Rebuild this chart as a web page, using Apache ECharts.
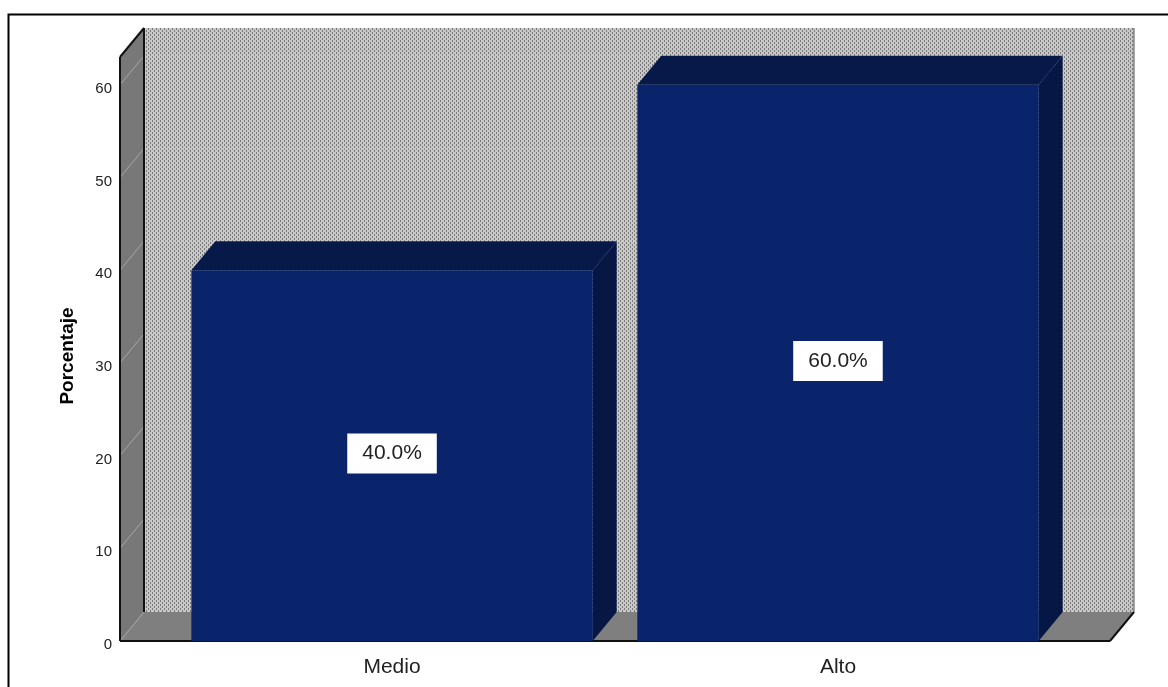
<!DOCTYPE html>
<html>
<head>
<meta charset="utf-8">
<script src="https://cdn.jsdelivr.net/npm/echarts@6/dist/echarts.min.js"></script>
<style>
  html, body { margin: 0; padding: 0; background: #ffffff; }
  #chart { width: 1168px; height: 687px; }
</style>
</head>
<body>
<div id="chart"></div>
<script>
// Data
const categories = ['Medio', 'Alto'];
const percentages = [40.0, 60.0];
const yTicks = [0, 10, 20, 30, 40, 50, 60];

// Axis ranges (axis units)
const X_MIN = -0.61;
const X_MAX = 1.61;
const Y_MAX = 63;
const BAR_WIDTH = 0.9;

// 3D depth offset in pixels
const DX = 24;
const DY = -29;

const FONT = '"Liberation Sans", Arial, sans-serif';

// Dotted fill used for the back wall
function makeDotPattern() {
  const c = document.createElement('canvas');
  c.width = 4; c.height = 4;
  const ctx = c.getContext('2d');
  ctx.fillStyle = '#c8c8c8';
  ctx.fillRect(0, 0, 4, 4);
  ctx.fillStyle = '#7a7a7a';
  ctx.fillRect(0, 0, 1, 2);
  ctx.fillRect(2, 2, 1, 2);
  return c;
}
const dotPattern = makeDotPattern();

function renderWalls(params, api) {
  const cs = params.coordSys;
  const x0 = cs.x, y0 = cs.y, w = cs.width, h = cs.height;
  const bottom = y0 + h;
  const children = [];
  // back wall
  children.push({
    type: 'rect',
    shape: { x: x0 + DX, y: y0 + DY, width: w, height: h },
    style: { fill: { image: dotPattern, repeat: 'repeat' } }
  });
  // left side wall
  children.push({
    type: 'polygon',
    shape: { points: [[x0, y0], [x0 + DX, y0 + DY], [x0 + DX, bottom + DY], [x0, bottom]] },
    style: { fill: '#787878' }
  });
  // floor
  children.push({
    type: 'polygon',
    shape: { points: [[x0, bottom], [x0 + DX, bottom + DY], [x0 + w + DX, bottom + DY], [x0 + w, bottom]] },
    style: { fill: '#7f7f7f' }
  });
  // gridlines on side wall and back wall
  yTicks.forEach(function (t) {
    const y = api.coord([X_MIN, t])[1];
    if (t > 0) {
      children.push({
        type: 'line',
        shape: { x1: x0 + DX, y1: y + DY, x2: x0 + w + DX, y2: y + DY },
        style: { stroke: 'rgba(210,210,210,0.4)', lineWidth: 1 }
      });
    }
    children.push({
      type: 'line',
      shape: { x1: x0, y1: y, x2: x0 + DX, y2: y + DY },
      style: { stroke: '#a6a6a6', lineWidth: 1 }
    });
  });
  // edges
  const edge = function (x1, y1, x2, y2, color, lw) {
    children.push({
      type: 'line',
      shape: { x1: x1, y1: y1, x2: x2, y2: y2 },
      style: { stroke: color, lineWidth: lw }
    });
  };
  edge(x0 + DX, y0 + DY, x0 + DX, bottom + DY, '#111', 2);
  edge(x0 + w + DX, y0 + DY, x0 + w + DX, bottom + DY, '#555', 1);
  edge(x0, y0, x0 + DX, y0 + DY, '#111', 2);
  edge(x0, y0, x0, bottom, '#111', 2);
  edge(x0, bottom, x0 + w, bottom, '#111', 2);
  edge(x0 + w, bottom, x0 + w + DX, bottom + DY, '#111', 2);
  return { type: 'group', children: children };
}

function renderBar(params, api) {
  const i = api.value(0);
  const v = api.value(1);
  const topPt = api.coord([i, v]);
  const basePt = api.coord([i, 0]);
  const bw = api.size([BAR_WIDTH, 0])[0];
  const cx = topPt[0];
  const top = topPt[1];
  const base = basePt[1];
  const left = cx - bw / 2;
  const right = cx + bw / 2;
  return {
    type: 'group',
    children: [
      {
        type: 'polygon',
        shape: { points: [[right, top], [right + DX, top + DY], [right + DX, base + DY], [right, base]] },
        style: { fill: '#061746' }
      },
      {
        type: 'polygon',
        shape: { points: [[left, top], [left + DX, top + DY], [right + DX, top + DY], [right, top]] },
        style: { fill: '#061948' }
      },
      {
        type: 'rect',
        shape: { x: left, y: top, width: bw, height: base - top },
        style: { fill: '#0a246c' }
      },
      {
        type: 'text',
        x: cx,
        y: (top + base) / 2 - 2,
        style: {
          text: v.toFixed(1) + '%',
          fontFamily: FONT,
          fontSize: 21,
          fill: '#222',
          align: 'center',
          verticalAlign: 'middle',
          backgroundColor: '#ffffff',
          padding: [9, 15, 9, 15],
          lineHeight: 22
        }
      }
    ]
  };
}

const chart = echarts.init(document.getElementById('chart'), null, { renderer: 'canvas' });
chart.setOption({
  animation: false,
  backgroundColor: '#ffffff',
  graphic: [{
    type: 'rect',
    left: 6, top: 12,
    shape: { width: 1175, height: 690 },
    style: { fill: 'none', stroke: '#000', lineWidth: 2 },
    z: 10
  }],
  grid: { left: 120, right: 58, top: 57, bottom: 46 },
  xAxis: {
    type: 'value',
    min: X_MIN,
    max: X_MAX,
    axisLine: { show: false },
    axisTick: { show: false },
    splitLine: { show: false },
    axisLabel: {
      customValues: [0, 1],
      formatter: function (v) { return categories[Math.round(v)]; },
      fontFamily: FONT,
      fontSize: 21,
      color: '#222',
      margin: 16
    }
  },
  yAxis: {
    type: 'value',
    min: 0,
    max: Y_MAX,
    interval: 10,
    name: 'Porcentaje',
    nameLocation: 'middle',
    nameRotate: 90,
    nameGap: 43,
    nameTextStyle: {
      fontFamily: FONT, fontSize: 19, fontWeight: 'bold', color: '#000',
      padding: [0, 14, 0, 0]
    },
    axisLine: { show: false },
    axisTick: { show: false },
    splitLine: { show: false },
    axisLabel: {
      customValues: yTicks,
      fontFamily: FONT,
      fontSize: 15,
      color: '#222',
      margin: 8,
      verticalAlign: 'top',
      lineHeight: 8
    }
  },
  series: [
    {
      type: 'custom',
      renderItem: renderWalls,
      data: [[0, 0]],
      encode: { x: 0, y: 1 },
      clip: false,
      silent: true,
      z: 1
    },
    {
      type: 'custom',
      renderItem: renderBar,
      data: categories.map(function (c, i) { return [i, percentages[i]]; }),
      encode: { x: 0, y: 1 },
      clip: false,
      z: 3
    }
  ]
});
</script>
</body>
</html>
